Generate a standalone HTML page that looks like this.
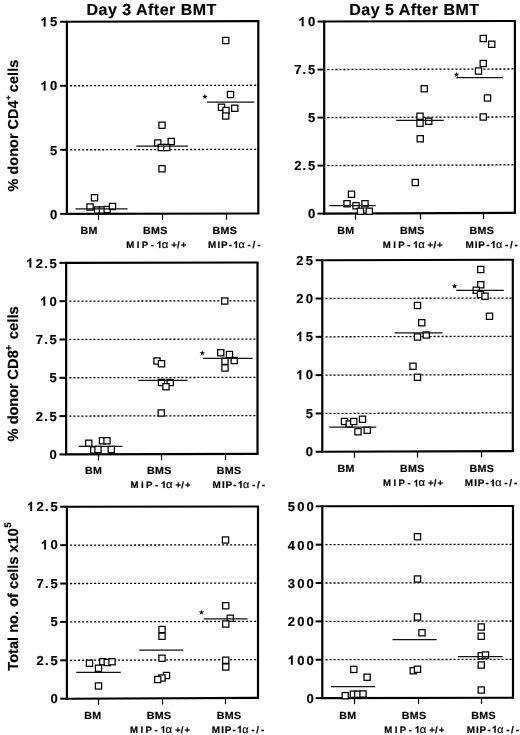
<!DOCTYPE html>
<html><head><meta charset="utf-8"><title>Figure</title>
<style>html,body{margin:0;padding:0;background:#fff;}svg{display:block;will-change:transform;}text{font-family:"Liberation Sans", sans-serif;font-weight:bold;fill:#000;stroke:#000;stroke-width:0.18px;text-rendering:geometricPrecision;}.tk{font-size:13px;letter-spacing:2.15px;text-anchor:end;}.tk2{font-size:13px;}.lb{font-size:10.3px;letter-spacing:0.3px;}.ti{font-size:16px;letter-spacing:0.49px;}.yt{font-size:14px;letter-spacing:0.3px;}.sp{letter-spacing:2.6px;}.al{font-weight:normal;font-size:11px;}</style></head><body>
<svg width="520" height="735" viewBox="0 0 520 735">
<rect width="520" height="735" fill="#fff"/>
<line x1="70.10" y1="85.77" x2="258.30" y2="85.25" stroke="#000" stroke-width="1.3" stroke-dasharray="2.05 1.95"/>
<line x1="70.10" y1="149.81" x2="258.30" y2="149.35" stroke="#000" stroke-width="1.3" stroke-dasharray="2.05 1.95"/>
<path d="M65.80 21.75L259.40 21.15M65.80 213.85L259.40 213.45" stroke="#000" stroke-width="2.10" fill="none"/>
<path d="M66.90 21.75V213.85M258.30 21.15V213.45" stroke="#000" stroke-width="2.20" fill="none"/>
<line x1="60.20" y1="21.76" x2="66.90" y2="21.76" stroke="#000" stroke-width="2.00"/>
<path transform="translate(40.44,26.46) scale(13.000,-13.000)" d="M.393 0H.256V.517Q.181.447.079.413V.538Q.133.556.196.605Q.259.654.282.719H.393Z" fill="#000" stroke="#000" stroke-width="0.014"/>
<text class="tk2" y="26.46"><tspan x="50.02">5</tspan></text>
<line x1="60.20" y1="85.79" x2="66.90" y2="85.79" stroke="#000" stroke-width="2.00"/>
<path transform="translate(40.44,90.49) scale(13.000,-13.000)" d="M.393 0H.256V.517Q.181.447.079.413V.538Q.133.556.196.605Q.259.654.282.719H.393Z" fill="#000" stroke="#000" stroke-width="0.014"/>
<text class="tk2" y="90.49"><tspan x="50.02">0</tspan></text>
<line x1="60.20" y1="149.82" x2="66.90" y2="149.82" stroke="#000" stroke-width="2.00"/>
<text class="tk2" y="154.52"><tspan x="50.02">5</tspan></text>
<line x1="60.20" y1="213.86" x2="66.90" y2="213.86" stroke="#000" stroke-width="2.00"/>
<text class="tk2" y="218.56"><tspan x="50.02">0</tspan></text>
<line x1="98.50" y1="213.78" x2="98.50" y2="219.98" stroke="#000" stroke-width="1.2"/>
<line x1="162.50" y1="213.65" x2="162.50" y2="219.85" stroke="#000" stroke-width="1.2"/>
<line x1="226.50" y1="213.52" x2="226.50" y2="219.72" stroke="#000" stroke-width="1.2"/>
<rect x="91.40" y="194.65" width="6.20" height="6.20" fill="#fff" stroke="#000" stroke-width="1.25"/>
<rect x="86.90" y="203.90" width="6.20" height="6.20" fill="#fff" stroke="#000" stroke-width="1.25"/>
<rect x="94.50" y="206.90" width="6.20" height="6.20" fill="#fff" stroke="#000" stroke-width="1.25"/>
<rect x="99.30" y="206.90" width="6.20" height="6.20" fill="#fff" stroke="#000" stroke-width="1.25"/>
<rect x="104.10" y="206.40" width="6.20" height="6.20" fill="#fff" stroke="#000" stroke-width="1.25"/>
<rect x="109.40" y="203.40" width="6.20" height="6.20" fill="#fff" stroke="#000" stroke-width="1.25"/>
<line x1="75.50" y1="208.90" x2="127.50" y2="208.90" stroke="#111" stroke-width="1.3"/>
<rect x="158.90" y="122.15" width="6.20" height="6.20" fill="#fff" stroke="#000" stroke-width="1.25"/>
<rect x="154.65" y="139.90" width="6.20" height="6.20" fill="#fff" stroke="#000" stroke-width="1.25"/>
<rect x="168.15" y="138.40" width="6.20" height="6.20" fill="#fff" stroke="#000" stroke-width="1.25"/>
<rect x="158.15" y="144.40" width="6.20" height="6.20" fill="#fff" stroke="#000" stroke-width="1.25"/>
<rect x="163.65" y="144.40" width="6.20" height="6.20" fill="#fff" stroke="#000" stroke-width="1.25"/>
<rect x="158.90" y="165.65" width="6.20" height="6.20" fill="#fff" stroke="#000" stroke-width="1.25"/>
<line x1="136.25" y1="146.05" x2="188.00" y2="146.05" stroke="#111" stroke-width="1.3"/>
<rect x="222.65" y="37.40" width="6.20" height="6.20" fill="#fff" stroke="#000" stroke-width="1.25"/>
<rect x="227.40" y="91.40" width="6.20" height="6.20" fill="#fff" stroke="#000" stroke-width="1.25"/>
<rect x="218.40" y="104.15" width="6.20" height="6.20" fill="#fff" stroke="#000" stroke-width="1.25"/>
<rect x="231.65" y="105.15" width="6.20" height="6.20" fill="#fff" stroke="#000" stroke-width="1.25"/>
<rect x="222.90" y="107.40" width="6.20" height="6.20" fill="#fff" stroke="#000" stroke-width="1.25"/>
<rect x="222.65" y="112.90" width="6.20" height="6.20" fill="#fff" stroke="#000" stroke-width="1.25"/>
<line x1="207.00" y1="102.05" x2="254.25" y2="102.05" stroke="#111" stroke-width="1.3"/>
<polygon points="204.90,93.88 205.58,95.85 207.66,95.88 205.99,97.13 206.60,99.12 204.90,97.93 203.20,99.12 203.81,97.13 202.14,95.88 204.22,95.85" fill="#000"/>
<text class="lb" transform="translate(80.55,233.90) scale(1.035,1)">BM</text>
<text class="lb" transform="translate(143.05,233.90) scale(1.035,1)">BMS</text>
<text class="lb" transform="translate(212.55,233.90) scale(1.035,1)">BMS</text>
<path transform="translate(156.64,247.90) scale(9.626,-9.300)" d="M.393 0H.256V.517Q.181.447.079.413V.538Q.133.556.196.605Q.259.654.282.719H.393Z" fill="#000" stroke="#000" stroke-width="0.018"/>
<text class="lb" style="font-size:9.3px" transform="translate(0,247.90) scale(1.035,1)"><tspan x="122.10">M</tspan><tspan x="132.15">I</tspan><tspan x="136.98">P</tspan><tspan x="145.71">-</tspan><tspan x="156.37" class="al" style="font-size:11.0px">α</tspan><tspan x="165.43">+</tspan><tspan x="171.11">/</tspan><tspan x="174.60">+</tspan></text>
<path transform="translate(233.17,247.90) scale(9.936,-9.600)" d="M.393 0H.256V.517Q.181.447.079.413V.538Q.133.556.196.605Q.259.654.282.719H.393Z" fill="#000" stroke="#000" stroke-width="0.018"/>
<text class="lb" style="font-size:9.6px" transform="translate(0,247.90) scale(1.035,1)"><tspan x="201.07">M</tspan><tspan x="210.05">I</tspan><tspan x="213.43">P</tspan><tspan x="221.11">-</tspan><tspan x="230.45" class="al" style="font-size:10.5px">α</tspan><tspan x="239.18">-</tspan><tspan x="243.91">/</tspan><tspan x="248.46">-</tspan></text>
<line x1="327.40" y1="69.55" x2="514.90" y2="68.96" stroke="#000" stroke-width="1.3" stroke-dasharray="2.05 1.95"/>
<line x1="327.40" y1="117.56" x2="514.90" y2="116.92" stroke="#000" stroke-width="1.3" stroke-dasharray="2.05 1.95"/>
<line x1="327.40" y1="165.58" x2="514.90" y2="164.89" stroke="#000" stroke-width="1.3" stroke-dasharray="2.05 1.95"/>
<path d="M323.10 21.55L516.00 21.00M323.10 213.60L516.00 212.85" stroke="#000" stroke-width="2.10" fill="none"/>
<path d="M324.20 21.55V213.60M514.90 21.00V212.85" stroke="#000" stroke-width="2.20" fill="none"/>
<line x1="317.50" y1="21.56" x2="324.20" y2="21.56" stroke="#000" stroke-width="2.00"/>
<path transform="translate(298.44,26.26) scale(13.000,-13.000)" d="M.393 0H.256V.517Q.181.447.079.413V.538Q.133.556.196.605Q.259.654.282.719H.393Z" fill="#000" stroke="#000" stroke-width="0.014"/>
<text class="tk2" y="26.26"><tspan x="308.02">0</tspan></text>
<line x1="317.50" y1="69.57" x2="324.20" y2="69.57" stroke="#000" stroke-width="2.00"/>
<text class="tk2" y="74.27"><tspan x="294.13">7</tspan><tspan x="302.61">.</tspan><tspan x="308.02">5</tspan></text>
<line x1="317.50" y1="117.59" x2="324.20" y2="117.59" stroke="#000" stroke-width="2.00"/>
<text class="tk2" y="122.29"><tspan x="308.02">5</tspan></text>
<line x1="317.50" y1="165.60" x2="324.20" y2="165.60" stroke="#000" stroke-width="2.00"/>
<text class="tk2" y="170.30"><tspan x="294.13">2</tspan><tspan x="302.61">.</tspan><tspan x="308.02">5</tspan></text>
<line x1="317.50" y1="213.61" x2="324.20" y2="213.61" stroke="#000" stroke-width="2.00"/>
<text class="tk2" y="218.31"><tspan x="308.02">0</tspan></text>
<line x1="355.50" y1="213.48" x2="355.50" y2="219.68" stroke="#000" stroke-width="1.2"/>
<line x1="420.50" y1="213.22" x2="420.50" y2="219.42" stroke="#000" stroke-width="1.2"/>
<line x1="483.50" y1="212.97" x2="483.50" y2="219.17" stroke="#000" stroke-width="1.2"/>
<rect x="348.40" y="191.15" width="6.20" height="6.20" fill="#fff" stroke="#000" stroke-width="1.25"/>
<rect x="343.90" y="200.65" width="6.20" height="6.20" fill="#fff" stroke="#000" stroke-width="1.25"/>
<rect x="352.90" y="202.65" width="6.20" height="6.20" fill="#fff" stroke="#000" stroke-width="1.25"/>
<rect x="361.90" y="200.65" width="6.20" height="6.20" fill="#fff" stroke="#000" stroke-width="1.25"/>
<rect x="357.40" y="208.15" width="6.20" height="6.20" fill="#fff" stroke="#000" stroke-width="1.25"/>
<rect x="366.15" y="208.15" width="6.20" height="6.20" fill="#fff" stroke="#000" stroke-width="1.25"/>
<line x1="329.25" y1="205.55" x2="375.75" y2="205.55" stroke="#111" stroke-width="1.3"/>
<rect x="421.15" y="85.65" width="6.20" height="6.20" fill="#fff" stroke="#000" stroke-width="1.25"/>
<rect x="416.90" y="113.15" width="6.20" height="6.20" fill="#fff" stroke="#000" stroke-width="1.25"/>
<rect x="416.90" y="120.15" width="6.20" height="6.20" fill="#fff" stroke="#000" stroke-width="1.25"/>
<rect x="425.65" y="118.15" width="6.20" height="6.20" fill="#fff" stroke="#000" stroke-width="1.25"/>
<rect x="417.15" y="135.65" width="6.20" height="6.20" fill="#fff" stroke="#000" stroke-width="1.25"/>
<rect x="412.15" y="179.40" width="6.20" height="6.20" fill="#fff" stroke="#000" stroke-width="1.25"/>
<line x1="396.25" y1="120.30" x2="443.75" y2="120.30" stroke="#111" stroke-width="1.3"/>
<rect x="480.15" y="35.40" width="6.20" height="6.20" fill="#fff" stroke="#000" stroke-width="1.25"/>
<rect x="488.65" y="41.15" width="6.20" height="6.20" fill="#fff" stroke="#000" stroke-width="1.25"/>
<rect x="480.15" y="60.40" width="6.20" height="6.20" fill="#fff" stroke="#000" stroke-width="1.25"/>
<rect x="475.40" y="67.90" width="6.20" height="6.20" fill="#fff" stroke="#000" stroke-width="1.25"/>
<rect x="484.40" y="94.90" width="6.20" height="6.20" fill="#fff" stroke="#000" stroke-width="1.25"/>
<rect x="480.15" y="113.90" width="6.20" height="6.20" fill="#fff" stroke="#000" stroke-width="1.25"/>
<line x1="456.25" y1="77.55" x2="503.00" y2="77.55" stroke="#111" stroke-width="1.3"/>
<polygon points="456.50,71.68 457.18,73.65 459.26,73.68 457.59,74.93 458.20,76.92 456.50,75.73 454.80,76.92 455.41,74.93 453.74,73.68 455.82,73.65" fill="#000"/>
<text class="lb" transform="translate(337.30,234.15) scale(1.035,1)">BM</text>
<text class="lb" transform="translate(400.00,234.15) scale(1.035,1)">BMS</text>
<text class="lb" transform="translate(469.50,234.15) scale(1.035,1)">BMS</text>
<path transform="translate(413.04,247.90) scale(9.626,-9.300)" d="M.393 0H.256V.517Q.181.447.079.413V.538Q.133.556.196.605Q.259.654.282.719H.393Z" fill="#000" stroke="#000" stroke-width="0.018"/>
<text class="lb" style="font-size:9.3px" transform="translate(0,247.90) scale(1.035,1)"><tspan x="369.83">M</tspan><tspan x="379.88">I</tspan><tspan x="384.71">P</tspan><tspan x="393.44">-</tspan><tspan x="404.10" class="al" style="font-size:11.0px">α</tspan><tspan x="413.15">+</tspan><tspan x="418.84">/</tspan><tspan x="422.33">+</tspan></text>
<path transform="translate(490.62,247.90) scale(9.936,-9.600)" d="M.393 0H.256V.517Q.181.447.079.413V.538Q.133.556.196.605Q.259.654.282.719H.393Z" fill="#000" stroke="#000" stroke-width="0.018"/>
<text class="lb" style="font-size:9.6px" transform="translate(0,247.90) scale(1.035,1)"><tspan x="449.81">M</tspan><tspan x="458.80">I</tspan><tspan x="462.18">P</tspan><tspan x="469.86">-</tspan><tspan x="479.19" class="al" style="font-size:10.5px">α</tspan><tspan x="487.93">-</tspan><tspan x="492.66">/</tspan><tspan x="497.20">-</tspan></text>
<line x1="69.35" y1="301.15" x2="257.50" y2="300.81" stroke="#000" stroke-width="1.3" stroke-dasharray="2.05 1.95"/>
<line x1="69.35" y1="339.46" x2="257.50" y2="339.07" stroke="#000" stroke-width="1.3" stroke-dasharray="2.05 1.95"/>
<line x1="69.35" y1="377.77" x2="257.50" y2="377.33" stroke="#000" stroke-width="1.3" stroke-dasharray="2.05 1.95"/>
<line x1="69.35" y1="416.08" x2="257.50" y2="415.59" stroke="#000" stroke-width="1.3" stroke-dasharray="2.05 1.95"/>
<path d="M65.05 262.85L258.60 262.55M65.05 454.40L258.60 453.85" stroke="#000" stroke-width="2.10" fill="none"/>
<path d="M66.15 262.85V454.40M257.50 262.55V453.85" stroke="#000" stroke-width="2.20" fill="none"/>
<line x1="59.45" y1="262.85" x2="66.15" y2="262.85" stroke="#000" stroke-width="2.00"/>
<path transform="translate(26.15,267.55) scale(13.000,-13.000)" d="M.393 0H.256V.517Q.181.447.079.413V.538Q.133.556.196.605Q.259.654.282.719H.393Z" fill="#000" stroke="#000" stroke-width="0.014"/>
<text class="tk2" y="267.55"><tspan x="35.73">2</tspan><tspan x="44.21">.</tspan><tspan x="49.62">5</tspan></text>
<line x1="59.45" y1="301.17" x2="66.15" y2="301.17" stroke="#000" stroke-width="2.00"/>
<path transform="translate(40.04,305.87) scale(13.000,-13.000)" d="M.393 0H.256V.517Q.181.447.079.413V.538Q.133.556.196.605Q.259.654.282.719H.393Z" fill="#000" stroke="#000" stroke-width="0.014"/>
<text class="tk2" y="305.87"><tspan x="49.62">0</tspan></text>
<line x1="59.45" y1="339.48" x2="66.15" y2="339.48" stroke="#000" stroke-width="2.00"/>
<text class="tk2" y="344.18"><tspan x="35.73">7</tspan><tspan x="44.21">.</tspan><tspan x="49.62">5</tspan></text>
<line x1="59.45" y1="377.79" x2="66.15" y2="377.79" stroke="#000" stroke-width="2.00"/>
<text class="tk2" y="382.49"><tspan x="49.62">5</tspan></text>
<line x1="59.45" y1="416.10" x2="66.15" y2="416.10" stroke="#000" stroke-width="2.00"/>
<text class="tk2" y="420.80"><tspan x="35.73">2</tspan><tspan x="44.21">.</tspan><tspan x="49.62">5</tspan></text>
<line x1="59.45" y1="454.41" x2="66.15" y2="454.41" stroke="#000" stroke-width="2.00"/>
<text class="tk2" y="459.11"><tspan x="49.62">0</tspan></text>
<line x1="98.50" y1="454.31" x2="98.50" y2="460.51" stroke="#000" stroke-width="1.2"/>
<line x1="161.50" y1="454.13" x2="161.50" y2="460.33" stroke="#000" stroke-width="1.2"/>
<line x1="225.50" y1="453.94" x2="225.50" y2="460.14" stroke="#000" stroke-width="1.2"/>
<rect x="85.65" y="440.15" width="6.20" height="6.20" fill="#fff" stroke="#000" stroke-width="1.25"/>
<rect x="99.40" y="437.65" width="6.20" height="6.20" fill="#fff" stroke="#000" stroke-width="1.25"/>
<rect x="103.90" y="437.65" width="6.20" height="6.20" fill="#fff" stroke="#000" stroke-width="1.25"/>
<rect x="90.65" y="446.90" width="6.20" height="6.20" fill="#fff" stroke="#000" stroke-width="1.25"/>
<rect x="94.90" y="446.40" width="6.20" height="6.20" fill="#fff" stroke="#000" stroke-width="1.25"/>
<rect x="108.15" y="446.40" width="6.20" height="6.20" fill="#fff" stroke="#000" stroke-width="1.25"/>
<line x1="78.75" y1="446.30" x2="122.50" y2="446.30" stroke="#111" stroke-width="1.3"/>
<rect x="153.90" y="357.90" width="6.20" height="6.20" fill="#fff" stroke="#000" stroke-width="1.25"/>
<rect x="158.40" y="360.65" width="6.20" height="6.20" fill="#fff" stroke="#000" stroke-width="1.25"/>
<rect x="158.40" y="379.40" width="6.20" height="6.20" fill="#fff" stroke="#000" stroke-width="1.25"/>
<rect x="167.15" y="379.40" width="6.20" height="6.20" fill="#fff" stroke="#000" stroke-width="1.25"/>
<rect x="162.90" y="383.65" width="6.20" height="6.20" fill="#fff" stroke="#000" stroke-width="1.25"/>
<rect x="158.15" y="409.90" width="6.20" height="6.20" fill="#fff" stroke="#000" stroke-width="1.25"/>
<line x1="138.25" y1="380.30" x2="187.50" y2="380.30" stroke="#111" stroke-width="1.3"/>
<rect x="221.65" y="297.90" width="6.20" height="6.20" fill="#fff" stroke="#000" stroke-width="1.25"/>
<rect x="217.65" y="349.65" width="6.20" height="6.20" fill="#fff" stroke="#000" stroke-width="1.25"/>
<rect x="226.40" y="351.40" width="6.20" height="6.20" fill="#fff" stroke="#000" stroke-width="1.25"/>
<rect x="221.90" y="358.15" width="6.20" height="6.20" fill="#fff" stroke="#000" stroke-width="1.25"/>
<rect x="231.15" y="357.40" width="6.20" height="6.20" fill="#fff" stroke="#000" stroke-width="1.25"/>
<rect x="221.90" y="364.90" width="6.20" height="6.20" fill="#fff" stroke="#000" stroke-width="1.25"/>
<line x1="203.00" y1="358.30" x2="252.50" y2="358.30" stroke="#111" stroke-width="1.3"/>
<polygon points="202.30,350.18 202.98,352.15 205.06,352.18 203.39,353.43 204.00,355.42 202.30,354.23 200.60,355.42 201.21,353.43 199.54,352.18 201.62,352.15" fill="#000"/>
<text class="lb" transform="translate(85.05,473.90) scale(1.035,1)">BM</text>
<text class="lb" transform="translate(147.05,473.90) scale(1.035,1)">BMS</text>
<text class="lb" transform="translate(216.80,473.90) scale(1.035,1)">BMS</text>
<path transform="translate(160.89,487.90) scale(9.626,-9.300)" d="M.393 0H.256V.517Q.181.447.079.413V.538Q.133.556.196.605Q.259.654.282.719H.393Z" fill="#000" stroke="#000" stroke-width="0.018"/>
<text class="lb" style="font-size:9.3px" transform="translate(0,487.90) scale(1.035,1)"><tspan x="126.21">M</tspan><tspan x="136.26">I</tspan><tspan x="141.09">P</tspan><tspan x="149.82">-</tspan><tspan x="160.48" class="al" style="font-size:11.0px">α</tspan><tspan x="169.53">+</tspan><tspan x="175.22">/</tspan><tspan x="178.71">+</tspan></text>
<path transform="translate(237.67,487.90) scale(9.936,-9.600)" d="M.393 0H.256V.517Q.181.447.079.413V.538Q.133.556.196.605Q.259.654.282.719H.393Z" fill="#000" stroke="#000" stroke-width="0.018"/>
<text class="lb" style="font-size:9.6px" transform="translate(0,487.90) scale(1.035,1)"><tspan x="205.41">M</tspan><tspan x="214.40">I</tspan><tspan x="217.78">P</tspan><tspan x="225.46">-</tspan><tspan x="234.80" class="al" style="font-size:10.5px">α</tspan><tspan x="243.53">-</tspan><tspan x="248.26">/</tspan><tspan x="252.80">-</tspan></text>
<line x1="325.50" y1="298.50" x2="512.80" y2="298.03" stroke="#000" stroke-width="1.3" stroke-dasharray="2.05 1.95"/>
<line x1="325.50" y1="336.81" x2="512.80" y2="336.31" stroke="#000" stroke-width="1.3" stroke-dasharray="2.05 1.95"/>
<line x1="325.50" y1="375.12" x2="512.80" y2="374.59" stroke="#000" stroke-width="1.3" stroke-dasharray="2.05 1.95"/>
<line x1="325.50" y1="413.43" x2="512.80" y2="412.87" stroke="#000" stroke-width="1.3" stroke-dasharray="2.05 1.95"/>
<path d="M321.20 260.20L513.90 259.75M321.20 451.75L513.90 451.15" stroke="#000" stroke-width="2.10" fill="none"/>
<path d="M322.30 260.20V451.75M512.80 259.75V451.15" stroke="#000" stroke-width="2.20" fill="none"/>
<line x1="315.60" y1="260.21" x2="322.30" y2="260.21" stroke="#000" stroke-width="2.00"/>
<text class="tk2" y="264.51"><tspan x="296.34">2</tspan><tspan x="305.72">5</tspan></text>
<line x1="315.60" y1="298.52" x2="322.30" y2="298.52" stroke="#000" stroke-width="2.00"/>
<text class="tk2" y="302.82"><tspan x="296.34">2</tspan><tspan x="305.72">0</tspan></text>
<line x1="315.60" y1="336.83" x2="322.30" y2="336.83" stroke="#000" stroke-width="2.00"/>
<path transform="translate(296.14,341.13) scale(13.000,-13.000)" d="M.393 0H.256V.517Q.181.447.079.413V.538Q.133.556.196.605Q.259.654.282.719H.393Z" fill="#000" stroke="#000" stroke-width="0.014"/>
<text class="tk2" y="341.13"><tspan x="305.72">5</tspan></text>
<line x1="315.60" y1="375.14" x2="322.30" y2="375.14" stroke="#000" stroke-width="2.00"/>
<path transform="translate(296.14,379.44) scale(13.000,-13.000)" d="M.393 0H.256V.517Q.181.447.079.413V.538Q.133.556.196.605Q.259.654.282.719H.393Z" fill="#000" stroke="#000" stroke-width="0.014"/>
<text class="tk2" y="379.44"><tspan x="305.72">0</tspan></text>
<line x1="315.60" y1="413.45" x2="322.30" y2="413.45" stroke="#000" stroke-width="2.00"/>
<text class="tk2" y="417.75"><tspan x="305.72">5</tspan></text>
<line x1="315.60" y1="451.76" x2="322.30" y2="451.76" stroke="#000" stroke-width="2.00"/>
<text class="tk2" y="456.06"><tspan x="305.72">0</tspan></text>
<line x1="354.50" y1="451.65" x2="354.50" y2="457.85" stroke="#000" stroke-width="1.2"/>
<line x1="417.50" y1="451.45" x2="417.50" y2="457.65" stroke="#000" stroke-width="1.2"/>
<line x1="481.50" y1="451.25" x2="481.50" y2="457.45" stroke="#000" stroke-width="1.2"/>
<rect x="341.40" y="418.40" width="6.20" height="6.20" fill="#fff" stroke="#000" stroke-width="1.25"/>
<rect x="346.15" y="420.90" width="6.20" height="6.20" fill="#fff" stroke="#000" stroke-width="1.25"/>
<rect x="350.65" y="418.40" width="6.20" height="6.20" fill="#fff" stroke="#000" stroke-width="1.25"/>
<rect x="359.40" y="416.15" width="6.20" height="6.20" fill="#fff" stroke="#000" stroke-width="1.25"/>
<rect x="354.90" y="428.65" width="6.20" height="6.20" fill="#fff" stroke="#000" stroke-width="1.25"/>
<rect x="364.15" y="427.15" width="6.20" height="6.20" fill="#fff" stroke="#000" stroke-width="1.25"/>
<line x1="329.25" y1="427.05" x2="376.25" y2="427.05" stroke="#111" stroke-width="1.3"/>
<rect x="414.40" y="302.40" width="6.20" height="6.20" fill="#fff" stroke="#000" stroke-width="1.25"/>
<rect x="418.65" y="319.65" width="6.20" height="6.20" fill="#fff" stroke="#000" stroke-width="1.25"/>
<rect x="423.15" y="331.90" width="6.20" height="6.20" fill="#fff" stroke="#000" stroke-width="1.25"/>
<rect x="414.40" y="333.90" width="6.20" height="6.20" fill="#fff" stroke="#000" stroke-width="1.25"/>
<rect x="409.90" y="363.15" width="6.20" height="6.20" fill="#fff" stroke="#000" stroke-width="1.25"/>
<rect x="414.40" y="374.15" width="6.20" height="6.20" fill="#fff" stroke="#000" stroke-width="1.25"/>
<line x1="394.50" y1="332.80" x2="442.50" y2="332.80" stroke="#111" stroke-width="1.3"/>
<rect x="477.65" y="266.40" width="6.20" height="6.20" fill="#fff" stroke="#000" stroke-width="1.25"/>
<rect x="477.65" y="281.65" width="6.20" height="6.20" fill="#fff" stroke="#000" stroke-width="1.25"/>
<rect x="473.15" y="287.15" width="6.20" height="6.20" fill="#fff" stroke="#000" stroke-width="1.25"/>
<rect x="477.40" y="291.40" width="6.20" height="6.20" fill="#fff" stroke="#000" stroke-width="1.25"/>
<rect x="481.90" y="293.15" width="6.20" height="6.20" fill="#fff" stroke="#000" stroke-width="1.25"/>
<rect x="486.40" y="313.15" width="6.20" height="6.20" fill="#fff" stroke="#000" stroke-width="1.25"/>
<line x1="456.25" y1="290.30" x2="503.75" y2="290.30" stroke="#111" stroke-width="1.3"/>
<polygon points="454.60,283.38 455.28,285.35 457.36,285.38 455.69,286.63 456.30,288.62 454.60,287.43 452.90,288.62 453.51,286.63 451.84,285.38 453.92,285.35" fill="#000"/>
<text class="lb" transform="translate(337.55,472.40) scale(1.035,1)">BM</text>
<text class="lb" transform="translate(400.05,472.40) scale(1.035,1)">BMS</text>
<text class="lb" transform="translate(469.60,472.40) scale(1.035,1)">BMS</text>
<path transform="translate(413.39,486.40) scale(9.626,-9.300)" d="M.393 0H.256V.517Q.181.447.079.413V.538Q.133.556.196.605Q.259.654.282.719H.393Z" fill="#000" stroke="#000" stroke-width="0.018"/>
<text class="lb" style="font-size:9.3px" transform="translate(0,486.40) scale(1.035,1)"><tspan x="370.17">M</tspan><tspan x="380.22">I</tspan><tspan x="385.05">P</tspan><tspan x="393.78">-</tspan><tspan x="404.44" class="al" style="font-size:11.0px">α</tspan><tspan x="413.49">+</tspan><tspan x="419.18">/</tspan><tspan x="422.67">+</tspan></text>
<path transform="translate(489.92,486.40) scale(9.936,-9.600)" d="M.393 0H.256V.517Q.181.447.079.413V.538Q.133.556.196.605Q.259.654.282.719H.393Z" fill="#000" stroke="#000" stroke-width="0.018"/>
<text class="lb" style="font-size:9.6px" transform="translate(0,486.40) scale(1.035,1)"><tspan x="449.13">M</tspan><tspan x="458.12">I</tspan><tspan x="461.50">P</tspan><tspan x="469.18">-</tspan><tspan x="478.52" class="al" style="font-size:10.5px">α</tspan><tspan x="487.25">-</tspan><tspan x="491.98">/</tspan><tspan x="496.52">-</tspan></text>
<line x1="70.10" y1="545.13" x2="258.00" y2="544.82" stroke="#000" stroke-width="1.3" stroke-dasharray="2.05 1.95"/>
<line x1="70.10" y1="583.52" x2="258.00" y2="583.09" stroke="#000" stroke-width="1.3" stroke-dasharray="2.05 1.95"/>
<line x1="70.10" y1="621.91" x2="258.00" y2="621.36" stroke="#000" stroke-width="1.3" stroke-dasharray="2.05 1.95"/>
<line x1="70.10" y1="660.30" x2="258.00" y2="659.63" stroke="#000" stroke-width="1.3" stroke-dasharray="2.05 1.95"/>
<path d="M65.80 506.75L259.10 506.55M65.80 698.70L259.10 697.90" stroke="#000" stroke-width="2.10" fill="none"/>
<path d="M66.90 506.75V698.70M258.00 506.55V697.90" stroke="#000" stroke-width="2.20" fill="none"/>
<line x1="60.20" y1="506.75" x2="66.90" y2="506.75" stroke="#000" stroke-width="2.00"/>
<path transform="translate(26.95,511.05) scale(13.000,-13.000)" d="M.393 0H.256V.517Q.181.447.079.413V.538Q.133.556.196.605Q.259.654.282.719H.393Z" fill="#000" stroke="#000" stroke-width="0.014"/>
<text class="tk2" y="511.05"><tspan x="36.53">2</tspan><tspan x="45.01">.</tspan><tspan x="50.42">5</tspan></text>
<line x1="60.20" y1="545.15" x2="66.90" y2="545.15" stroke="#000" stroke-width="2.00"/>
<path transform="translate(40.84,549.45) scale(13.000,-13.000)" d="M.393 0H.256V.517Q.181.447.079.413V.538Q.133.556.196.605Q.259.654.282.719H.393Z" fill="#000" stroke="#000" stroke-width="0.014"/>
<text class="tk2" y="549.45"><tspan x="50.42">0</tspan></text>
<line x1="60.20" y1="583.54" x2="66.90" y2="583.54" stroke="#000" stroke-width="2.00"/>
<text class="tk2" y="587.84"><tspan x="36.53">7</tspan><tspan x="45.01">.</tspan><tspan x="50.42">5</tspan></text>
<line x1="60.20" y1="621.93" x2="66.90" y2="621.93" stroke="#000" stroke-width="2.00"/>
<text class="tk2" y="626.23"><tspan x="50.42">5</tspan></text>
<line x1="60.20" y1="660.32" x2="66.90" y2="660.32" stroke="#000" stroke-width="2.00"/>
<text class="tk2" y="664.62"><tspan x="36.53">2</tspan><tspan x="45.01">.</tspan><tspan x="50.42">5</tspan></text>
<line x1="60.20" y1="698.71" x2="66.90" y2="698.71" stroke="#000" stroke-width="2.00"/>
<text class="tk2" y="703.01"><tspan x="50.42">0</tspan></text>
<line x1="98.50" y1="698.57" x2="98.50" y2="704.77" stroke="#000" stroke-width="1.2"/>
<line x1="162.50" y1="698.30" x2="162.50" y2="704.50" stroke="#000" stroke-width="1.2"/>
<line x1="225.50" y1="698.04" x2="225.50" y2="704.24" stroke="#000" stroke-width="1.2"/>
<rect x="86.40" y="660.15" width="6.20" height="6.20" fill="#fff" stroke="#000" stroke-width="1.25"/>
<rect x="99.65" y="658.65" width="6.20" height="6.20" fill="#fff" stroke="#000" stroke-width="1.25"/>
<rect x="104.15" y="659.40" width="6.20" height="6.20" fill="#fff" stroke="#000" stroke-width="1.25"/>
<rect x="108.90" y="658.65" width="6.20" height="6.20" fill="#fff" stroke="#000" stroke-width="1.25"/>
<rect x="95.40" y="665.15" width="6.20" height="6.20" fill="#fff" stroke="#000" stroke-width="1.25"/>
<rect x="95.40" y="682.90" width="6.20" height="6.20" fill="#fff" stroke="#000" stroke-width="1.25"/>
<line x1="76.25" y1="672.30" x2="120.75" y2="672.30" stroke="#111" stroke-width="1.3"/>
<rect x="158.90" y="626.40" width="6.20" height="6.20" fill="#fff" stroke="#000" stroke-width="1.25"/>
<rect x="158.90" y="633.15" width="6.20" height="6.20" fill="#fff" stroke="#000" stroke-width="1.25"/>
<rect x="158.90" y="655.15" width="6.20" height="6.20" fill="#fff" stroke="#000" stroke-width="1.25"/>
<rect x="163.40" y="672.40" width="6.20" height="6.20" fill="#fff" stroke="#000" stroke-width="1.25"/>
<rect x="158.90" y="674.90" width="6.20" height="6.20" fill="#fff" stroke="#000" stroke-width="1.25"/>
<rect x="154.65" y="676.40" width="6.20" height="6.20" fill="#fff" stroke="#000" stroke-width="1.25"/>
<line x1="139.25" y1="650.05" x2="183.25" y2="650.05" stroke="#111" stroke-width="1.3"/>
<rect x="222.40" y="536.90" width="6.20" height="6.20" fill="#fff" stroke="#000" stroke-width="1.25"/>
<rect x="222.65" y="602.65" width="6.20" height="6.20" fill="#fff" stroke="#000" stroke-width="1.25"/>
<rect x="227.15" y="615.15" width="6.20" height="6.20" fill="#fff" stroke="#000" stroke-width="1.25"/>
<rect x="222.65" y="620.90" width="6.20" height="6.20" fill="#fff" stroke="#000" stroke-width="1.25"/>
<rect x="222.65" y="657.15" width="6.20" height="6.20" fill="#fff" stroke="#000" stroke-width="1.25"/>
<rect x="222.65" y="663.90" width="6.20" height="6.20" fill="#fff" stroke="#000" stroke-width="1.25"/>
<line x1="203.75" y1="618.80" x2="247.50" y2="618.80" stroke="#111" stroke-width="1.3"/>
<polygon points="201.50,609.48 202.18,611.45 204.26,611.48 202.59,612.73 203.20,614.72 201.50,613.53 199.80,614.72 200.41,612.73 198.74,611.48 200.82,611.45" fill="#000"/>
<text class="lb" transform="translate(84.30,718.75) scale(1.035,1)">BM</text>
<text class="lb" transform="translate(146.80,718.75) scale(1.035,1)">BMS</text>
<text class="lb" transform="translate(216.80,718.75) scale(1.035,1)">BMS</text>
<path transform="translate(160.39,732.65) scale(9.626,-9.300)" d="M.393 0H.256V.517Q.181.447.079.413V.538Q.133.556.196.605Q.259.654.282.719H.393Z" fill="#000" stroke="#000" stroke-width="0.018"/>
<text class="lb" style="font-size:9.3px" transform="translate(0,732.65) scale(1.035,1)"><tspan x="125.72">M</tspan><tspan x="135.77">I</tspan><tspan x="140.60">P</tspan><tspan x="149.34">-</tspan><tspan x="159.99" class="al" style="font-size:11.0px">α</tspan><tspan x="169.05">+</tspan><tspan x="174.74">/</tspan><tspan x="178.23">+</tspan></text>
<path transform="translate(236.92,732.65) scale(9.936,-9.600)" d="M.393 0H.256V.517Q.181.447.079.413V.538Q.133.556.196.605Q.259.654.282.719H.393Z" fill="#000" stroke="#000" stroke-width="0.018"/>
<text class="lb" style="font-size:9.6px" transform="translate(0,732.65) scale(1.035,1)"><tspan x="204.69">M</tspan><tspan x="213.68">I</tspan><tspan x="217.06">P</tspan><tspan x="224.74">-</tspan><tspan x="234.07" class="al" style="font-size:10.5px">α</tspan><tspan x="242.80">-</tspan><tspan x="247.54">/</tspan><tspan x="252.08">-</tspan></text>
<line x1="325.50" y1="544.65" x2="513.00" y2="544.30" stroke="#000" stroke-width="1.3" stroke-dasharray="2.05 1.95"/>
<line x1="325.50" y1="583.01" x2="513.00" y2="582.65" stroke="#000" stroke-width="1.3" stroke-dasharray="2.05 1.95"/>
<line x1="325.50" y1="621.37" x2="513.00" y2="621.00" stroke="#000" stroke-width="1.3" stroke-dasharray="2.05 1.95"/>
<line x1="325.50" y1="659.73" x2="513.00" y2="659.35" stroke="#000" stroke-width="1.3" stroke-dasharray="2.05 1.95"/>
<path d="M321.20 506.30L514.10 505.95M321.20 698.10L514.10 697.70" stroke="#000" stroke-width="2.10" fill="none"/>
<path d="M322.30 506.30V698.10M513.00 505.95V697.70" stroke="#000" stroke-width="2.20" fill="none"/>
<line x1="315.60" y1="506.31" x2="322.30" y2="506.31" stroke="#000" stroke-width="2.00"/>
<text class="tk2" y="511.41"><tspan x="287.87">5</tspan><tspan x="297.24">0</tspan><tspan x="306.62">0</tspan></text>
<line x1="315.60" y1="544.67" x2="322.30" y2="544.67" stroke="#000" stroke-width="2.00"/>
<text class="tk2" y="549.77"><tspan x="287.87">4</tspan><tspan x="297.24">0</tspan><tspan x="306.62">0</tspan></text>
<line x1="315.60" y1="583.03" x2="322.30" y2="583.03" stroke="#000" stroke-width="2.00"/>
<text class="tk2" y="588.13"><tspan x="287.87">3</tspan><tspan x="297.24">0</tspan><tspan x="306.62">0</tspan></text>
<line x1="315.60" y1="621.39" x2="322.30" y2="621.39" stroke="#000" stroke-width="2.00"/>
<text class="tk2" y="626.49"><tspan x="287.87">2</tspan><tspan x="297.24">0</tspan><tspan x="306.62">0</tspan></text>
<line x1="315.60" y1="659.75" x2="322.30" y2="659.75" stroke="#000" stroke-width="2.00"/>
<path transform="translate(287.67,664.85) scale(13.000,-13.000)" d="M.393 0H.256V.517Q.181.447.079.413V.538Q.133.556.196.605Q.259.654.282.719H.393Z" fill="#000" stroke="#000" stroke-width="0.014"/>
<text class="tk2" y="664.85"><tspan x="297.24">0</tspan><tspan x="306.62">0</tspan></text>
<line x1="315.60" y1="698.11" x2="322.30" y2="698.11" stroke="#000" stroke-width="2.00"/>
<text class="tk2" y="703.21"><tspan x="306.62">0</tspan></text>
<line x1="354.50" y1="698.03" x2="354.50" y2="704.23" stroke="#000" stroke-width="1.2"/>
<line x1="418.50" y1="697.90" x2="418.50" y2="704.10" stroke="#000" stroke-width="1.2"/>
<line x1="481.50" y1="697.77" x2="481.50" y2="703.97" stroke="#000" stroke-width="1.2"/>
<rect x="350.70" y="666.30" width="6.20" height="6.20" fill="#fff" stroke="#000" stroke-width="1.25"/>
<rect x="364.00" y="674.10" width="6.20" height="6.20" fill="#fff" stroke="#000" stroke-width="1.25"/>
<rect x="342.10" y="692.60" width="6.20" height="6.20" fill="#fff" stroke="#000" stroke-width="1.25"/>
<rect x="350.30" y="691.10" width="6.20" height="6.20" fill="#fff" stroke="#000" stroke-width="1.25"/>
<rect x="354.60" y="691.10" width="6.20" height="6.20" fill="#fff" stroke="#000" stroke-width="1.25"/>
<rect x="359.90" y="690.90" width="6.20" height="6.20" fill="#fff" stroke="#000" stroke-width="1.25"/>
<line x1="330.80" y1="686.70" x2="375.20" y2="686.70" stroke="#111" stroke-width="1.3"/>
<rect x="414.40" y="533.65" width="6.20" height="6.20" fill="#fff" stroke="#000" stroke-width="1.25"/>
<rect x="414.40" y="575.90" width="6.20" height="6.20" fill="#fff" stroke="#000" stroke-width="1.25"/>
<rect x="414.40" y="613.90" width="6.20" height="6.20" fill="#fff" stroke="#000" stroke-width="1.25"/>
<rect x="418.90" y="629.65" width="6.20" height="6.20" fill="#fff" stroke="#000" stroke-width="1.25"/>
<rect x="410.15" y="667.65" width="6.20" height="6.20" fill="#fff" stroke="#000" stroke-width="1.25"/>
<rect x="414.40" y="666.15" width="6.20" height="6.20" fill="#fff" stroke="#000" stroke-width="1.25"/>
<line x1="392.50" y1="639.55" x2="436.75" y2="639.55" stroke="#111" stroke-width="1.3"/>
<rect x="478.15" y="623.90" width="6.20" height="6.20" fill="#fff" stroke="#000" stroke-width="1.25"/>
<rect x="478.15" y="633.15" width="6.20" height="6.20" fill="#fff" stroke="#000" stroke-width="1.25"/>
<rect x="478.15" y="652.65" width="6.20" height="6.20" fill="#fff" stroke="#000" stroke-width="1.25"/>
<rect x="482.40" y="651.90" width="6.20" height="6.20" fill="#fff" stroke="#000" stroke-width="1.25"/>
<rect x="478.15" y="661.90" width="6.20" height="6.20" fill="#fff" stroke="#000" stroke-width="1.25"/>
<rect x="478.15" y="686.90" width="6.20" height="6.20" fill="#fff" stroke="#000" stroke-width="1.25"/>
<line x1="458.00" y1="656.55" x2="502.50" y2="656.55" stroke="#111" stroke-width="1.3"/>
<text class="lb" transform="translate(339.30,718.55) scale(1.035,1)">BM</text>
<text class="lb" transform="translate(401.80,718.55) scale(1.035,1)">BMS</text>
<text class="lb" transform="translate(471.30,718.55) scale(1.035,1)">BMS</text>
<path transform="translate(414.64,732.65) scale(9.626,-9.300)" d="M.393 0H.256V.517Q.181.447.079.413V.538Q.133.556.196.605Q.259.654.282.719H.393Z" fill="#000" stroke="#000" stroke-width="0.018"/>
<text class="lb" style="font-size:9.3px" transform="translate(0,732.65) scale(1.035,1)"><tspan x="371.38">M</tspan><tspan x="381.42">I</tspan><tspan x="386.26">P</tspan><tspan x="394.99">-</tspan><tspan x="405.65" class="al" style="font-size:11.0px">α</tspan><tspan x="414.70">+</tspan><tspan x="420.39">/</tspan><tspan x="423.88">+</tspan></text>
<path transform="translate(491.82,732.65) scale(9.936,-9.600)" d="M.393 0H.256V.517Q.181.447.079.413V.538Q.133.556.196.605Q.259.654.282.719H.393Z" fill="#000" stroke="#000" stroke-width="0.018"/>
<text class="lb" style="font-size:9.6px" transform="translate(0,732.65) scale(1.035,1)"><tspan x="450.97">M</tspan><tspan x="459.96">I</tspan><tspan x="463.34">P</tspan><tspan x="471.02">-</tspan><tspan x="480.35" class="al" style="font-size:10.5px">α</tspan><tspan x="489.08">-</tspan><tspan x="493.82">/</tspan><tspan x="498.36">-</tspan></text>
<text class="ti" transform="translate(86.5,15.0)">Day 3 After BMT</text>
<text class="ti" transform="translate(349.2,15.0)">Day 5 After BMT</text>
<text class="yt" style="font-size:14.4px;letter-spacing:0.1px" transform="translate(17.8,191.4) rotate(-90)">%<tspan dx="-0.2"> donor</tspan><tspan dx="-0.2"> CD4</tspan><tspan dy="-7.2" dx="0.4" style="font-size:8px">+</tspan><tspan dy="7.2" dx="-1.1"> cells</tspan></text>
<text class="yt" style="font-size:14.7px;letter-spacing:0.1px" transform="translate(18.2,441.6) rotate(-90)">%<tspan dx="0.2" style="letter-spacing:-0.15px"> donor</tspan><tspan dx="-0.5"> CD8</tspan><tspan dy="-5.9" dx="-0.6" style="font-size:10px">+</tspan><tspan dy="5.9" dx="1.4" style="letter-spacing:0.05px"> cells</tspan></text>
<text class="yt" style="font-size:14.5px;letter-spacing:0.05px" transform="translate(18.1,670.7) rotate(-90)">Total no. of cells x10<tspan dy="-7.4" dx="0.3" style="font-size:9.6px">5</tspan></text>
</svg></body></html>
